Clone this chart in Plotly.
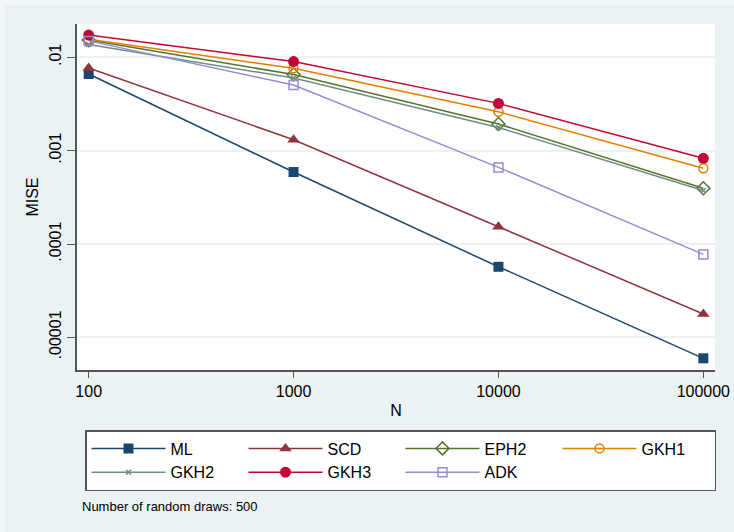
import plotly.graph_objects as go

# Sample sizes and mean integrated squared error by estimator
n_obs = [100, 1000, 10000, 100000]
mise_ml = [0.00662, 0.000590, 0.0000570, 0.00000596]
mise_scd = [0.00768, 0.00131, 0.000153, 0.0000178]
mise_eph2 = [0.0153, 0.00654, 0.00193, 0.000395]
mise_gkh1 = [0.0156, 0.00762, 0.00261, 0.000647]
mise_gkh2 = [0.0137, 0.00600, 0.00177, 0.000374]
mise_gkh3 = [0.0173, 0.00901, 0.00321, 0.000828]
mise_adk = [0.0150, 0.00505, 0.000662, 0.0000774]

x_ticks = [100, 1000, 10000, 100000]
x_ticktext = ["100", "1000", "10000", "100000"]
y_ticks = [0.00001, 0.0001, 0.001, 0.01]
y_ticktext = [".00001", ".0001", ".001", ".01"]

series = [
    ("ML", mise_ml, "#1A476F", dict(symbol="square", size=10)),
    ("SCD", mise_scd, "#90353B", dict(symbol="triangle-up", size=11)),
    ("EPH2", mise_eph2, "#55752F", dict(symbol="diamond-open", size=10, line=dict(width=1.5))),
    ("GKH1", mise_gkh1, "#E37E00", dict(symbol="circle-open", size=9, line=dict(width=1.5))),
    ("GKH2", mise_gkh2, "#6E8E84", dict(symbol="x-thin-open", size=5, line=dict(width=1.5))),
    ("GKH3", mise_gkh3, "#C10534", dict(symbol="circle", size=11)),
    ("ADK", mise_adk, "#938DD2", dict(symbol="square-open", size=9, line=dict(width=1.5))),
]

BG = "#EAF2F3"
FONT = "Liberation Sans, Arial, Helvetica, sans-serif"

fig = go.Figure()
for name, vals, color, mk in series:
    mk = dict(mk)
    mk["color"] = color
    if "line" in mk:
        mk["line"] = dict(mk["line"], color=color)
    fig.add_trace(go.Scatter(
        x=n_obs, y=vals, name=name, mode="lines+markers",
        line=dict(color=color, width=1.5), marker=mk,
    ))

W, H = 734, 532
ML_, MR, MT, MB = 77, 19, 24, 162
pw, ph = W - ML_ - MR, H - MT - MB


def px_x(p):
    return (p - ML_) / pw


def px_y(p):
    return (H - MB - p) / ph


fig.update_layout(
    width=W, height=H,
    margin=dict(l=ML_, r=MR, t=MT, b=MB, autoexpand=False),
    paper_bgcolor=BG, plot_bgcolor="white",
    font=dict(family=FONT, size=16, color="black"),
    showlegend=True,
    legend=dict(
        orientation="h", xref="container", yref="container",
        x=85 / W, xanchor="left", y=1 - 430 / H, yanchor="top",
        bgcolor="white", bordercolor="#555555", borderwidth=1.5,
        font=dict(size=16), itemwidth=74, entrywidth=68, traceorder="normal",
        tracegroupgap=0,
    ),
    xaxis=dict(
        type="log", range=[1.943, 5.057],
        tickvals=x_ticks, ticktext=x_ticktext,
        showgrid=False, zeroline=False,
        showline=True, linecolor="#555555", linewidth=1.5,
        ticks="outside", ticklen=6, tickcolor="#555555", tickwidth=1,
        tickfont=dict(size=16),
        title=dict(text="N", font=dict(size=16), standoff=6),
    ),
    yaxis=dict(
        type="log", range=[-5.35, -1.643],
        tickvals=y_ticks, ticktext=y_ticktext, tickangle=-90,
        showgrid=True, gridcolor=BG, gridwidth=1.5, zeroline=False,
        showline=True, linecolor="#555555", linewidth=1.5,
        ticks="outside", ticklen=8, tickcolor="#555555", tickwidth=1,
        tickfont=dict(size=16),
        title=dict(text="MISE", font=dict(size=16), standoff=4),
    ),
    annotations=[dict(
        text="Number of random draws: 500", xref="paper", yref="paper",
        x=px_x(80), y=px_y(506), xanchor="left", yanchor="middle",
        showarrow=False, font=dict(size=13),
    )],
    shapes=[
        dict(type="rect", xref="paper", yref="paper", layer="below",
             x0=px_x(0), x1=px_x(W), y0=px_y(0), y1=px_y(5),
             fillcolor="#F3F7F8", line=dict(width=0)),
        dict(type="rect", xref="paper", yref="paper", layer="below",
             x0=px_x(0), x1=px_x(5), y0=px_y(0), y1=px_y(H),
             fillcolor="#F3F7F8", line=dict(width=0)),
    ],
)

fig.write_html("out.html")
